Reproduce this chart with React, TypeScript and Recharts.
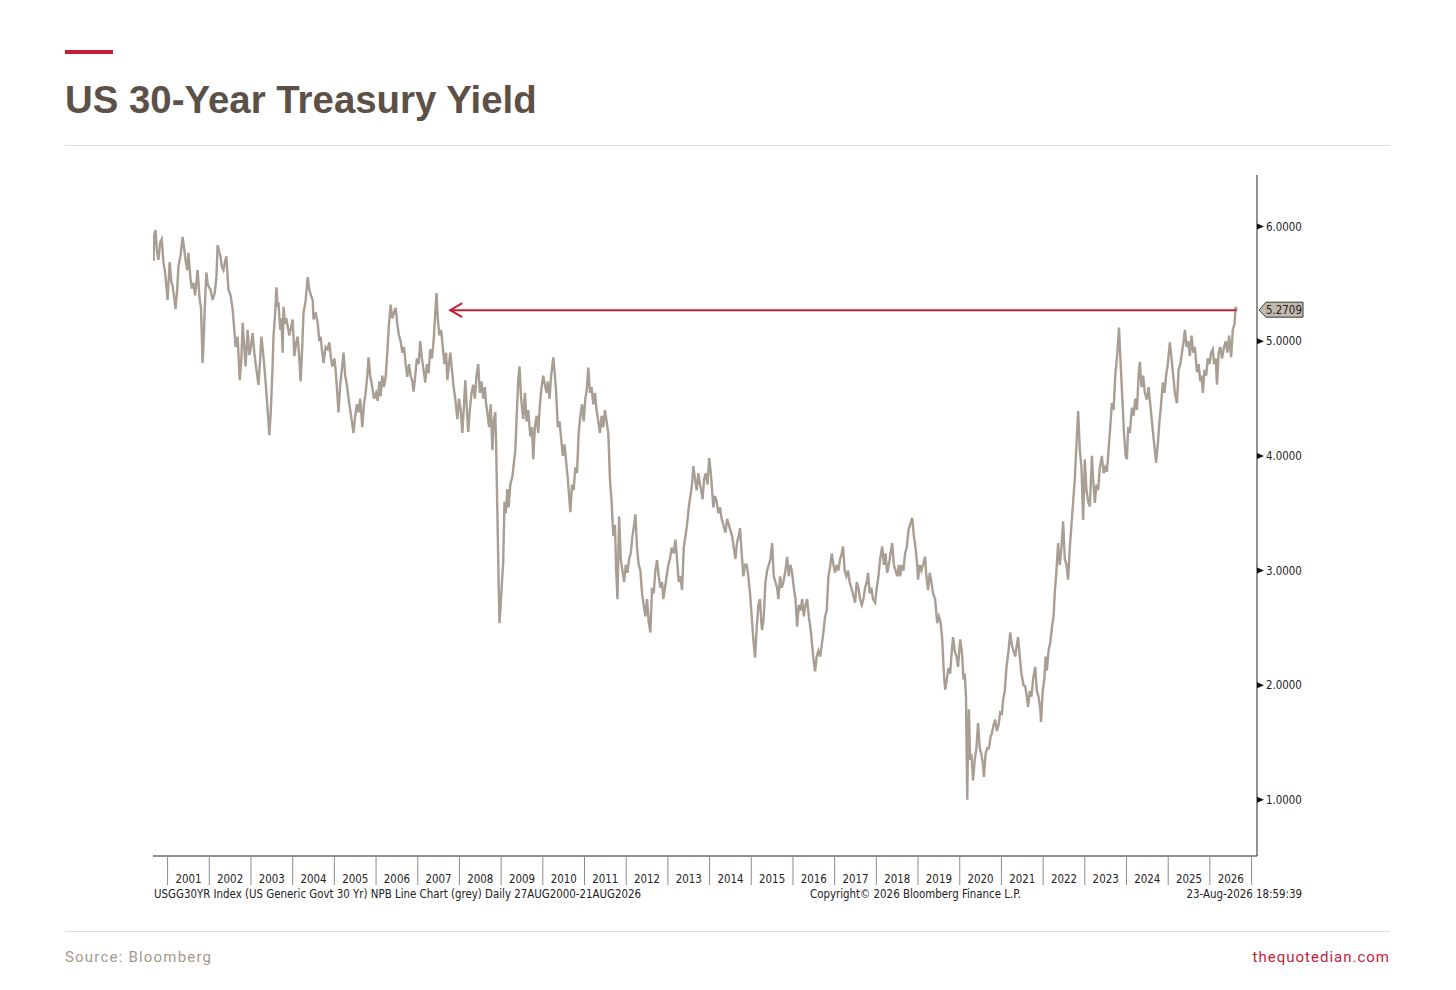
import { LineChart, Line, XAxis, YAxis, ReferenceLine } from "recharts";

// US 30y generic yield: [decimal year, yield %]
const Y2000_2004: [number, number][] = [
  [2000.66, 5.7], [2000.68, 5.93], [2000.71, 5.97], [2000.74, 5.8], [2000.78, 5.71], [2000.82, 5.86],
  [2000.86, 5.89], [2000.9, 5.69], [2000.94, 5.6], [2001.0, 5.36], [2001.05, 5.69], [2001.09, 5.52],
  [2001.12, 5.48], [2001.16, 5.38], [2001.19, 5.28], [2001.23, 5.45], [2001.26, 5.65], [2001.31, 5.75],
  [2001.36, 5.91], [2001.4, 5.8], [2001.43, 5.71], [2001.47, 5.62], [2001.5, 5.77], [2001.55, 5.54],
  [2001.58, 5.46], [2001.62, 5.51], [2001.66, 5.4], [2001.72, 5.62], [2001.77, 5.36], [2001.8, 5.3],
  [2001.84, 4.81], [2001.87, 5.05], [2001.89, 5.28], [2001.93, 5.6], [2001.96, 5.5], [2001.98, 5.48],
  [2002.03, 5.45], [2002.08, 5.36], [2002.13, 5.42], [2002.17, 5.55], [2002.2, 5.84], [2002.24, 5.78],
  [2002.27, 5.74], [2002.3, 5.65], [2002.34, 5.62], [2002.38, 5.7], [2002.41, 5.74], [2002.46, 5.45],
  [2002.51, 5.4], [2002.56, 5.28], [2002.6, 5.1], [2002.63, 4.95], [2002.68, 5.04], [2002.73, 4.66],
  [2002.77, 4.85], [2002.8, 5.16], [2002.84, 4.95], [2002.87, 4.78], [2002.92, 5.1], [2002.96, 4.88],
  [2002.99, 4.93], [2003.04, 5.07], [2003.08, 4.9], [2003.11, 4.81], [2003.15, 4.7], [2003.18, 4.62],
  [2003.22, 4.85], [2003.25, 5.04], [2003.29, 4.9], [2003.32, 4.78], [2003.36, 4.6], [2003.4, 4.4],
  [2003.44, 4.18], [2003.47, 4.35], [2003.49, 4.52], [2003.52, 4.8], [2003.54, 5.04], [2003.58, 5.25],
  [2003.61, 5.47], [2003.64, 5.3], [2003.66, 5.34], [2003.7, 5.1], [2003.73, 5.2], [2003.76, 4.9],
  [2003.78, 5.3], [2003.82, 5.15], [2003.85, 5.2], [2003.88, 5.13], [2003.92, 5.05], [2004.0, 5.19],
  [2004.04, 4.87], [2004.08, 4.98], [2004.12, 5.04], [2004.16, 4.85], [2004.19, 4.65], [2004.23, 4.95],
  [2004.26, 5.25], [2004.31, 5.35], [2004.36, 5.56], [2004.4, 5.45], [2004.44, 5.4], [2004.48, 5.36],
  [2004.5, 5.19], [2004.55, 5.25], [2004.6, 5.16], [2004.64, 5.0], [2004.67, 5.04], [2004.71, 4.9],
  [2004.74, 4.81], [2004.79, 4.95], [2004.84, 4.93], [2004.88, 4.99], [2004.92, 4.85], [2004.95, 4.78],
];

const Y2005_2009: [number, number][] = [
  [2005.0, 4.85], [2005.03, 4.75], [2005.06, 4.6], [2005.1, 4.38], [2005.14, 4.62], [2005.18, 4.75],
  [2005.22, 4.9], [2005.26, 4.7], [2005.3, 4.62], [2005.34, 4.5], [2005.38, 4.4], [2005.42, 4.3],
  [2005.46, 4.2], [2005.5, 4.35], [2005.54, 4.45], [2005.58, 4.38], [2005.62, 4.5], [2005.67, 4.25],
  [2005.71, 4.45], [2005.75, 4.55], [2005.79, 4.7], [2005.82, 4.86], [2005.86, 4.7], [2005.9, 4.62],
  [2005.95, 4.5], [2006.0, 4.55], [2006.04, 4.48], [2006.08, 4.65], [2006.11, 4.52], [2006.15, 4.7],
  [2006.19, 4.6], [2006.23, 4.69], [2006.27, 4.9], [2006.31, 5.15], [2006.35, 5.32], [2006.39, 5.2],
  [2006.43, 5.25], [2006.47, 5.29], [2006.51, 5.15], [2006.55, 5.05], [2006.59, 5.0], [2006.63, 4.9],
  [2006.67, 4.95], [2006.71, 4.8], [2006.75, 4.69], [2006.79, 4.8], [2006.83, 4.7], [2006.87, 4.65],
  [2006.9, 4.56], [2006.94, 4.7], [2006.98, 4.85], [2007.02, 4.8], [2007.06, 5.0], [2007.1, 4.85],
  [2007.14, 4.75], [2007.18, 4.64], [2007.22, 4.8], [2007.26, 4.72], [2007.3, 4.93], [2007.34, 4.85],
  [2007.38, 5.0], [2007.42, 5.25], [2007.45, 5.42], [2007.48, 5.2], [2007.52, 5.05], [2007.56, 5.1],
  [2007.6, 4.95], [2007.64, 4.8], [2007.68, 4.9], [2007.71, 4.66], [2007.75, 4.8], [2007.78, 4.9],
  [2007.82, 4.75], [2007.86, 4.6], [2007.9, 4.5], [2007.95, 4.32], [2007.99, 4.5], [2008.03, 4.4],
  [2008.07, 4.2], [2008.11, 4.45], [2008.14, 4.66], [2008.18, 4.4], [2008.21, 4.21], [2008.25, 4.4],
  [2008.29, 4.55], [2008.33, 4.62], [2008.37, 4.5], [2008.41, 4.7], [2008.45, 4.8], [2008.49, 4.55],
  [2008.53, 4.65], [2008.57, 4.5], [2008.61, 4.6], [2008.64, 4.45], [2008.67, 4.38], [2008.71, 4.25],
  [2008.75, 4.45], [2008.79, 4.05], [2008.82, 4.3], [2008.86, 4.38], [2008.88, 4.1], [2008.91, 3.5],
  [2008.94, 2.9], [2008.96, 2.54], [2008.99, 2.7], [2009.02, 2.9], [2009.05, 3.07], [2009.08, 3.6],
  [2009.11, 3.5], [2009.15, 3.71], [2009.18, 3.55], [2009.22, 3.75], [2009.27, 3.82], [2009.31, 3.95],
  [2009.34, 4.05], [2009.38, 4.4], [2009.41, 4.65], [2009.44, 4.78], [2009.48, 4.5], [2009.53, 4.32],
  [2009.57, 4.55], [2009.61, 4.3], [2009.65, 4.4], [2009.7, 4.17], [2009.74, 4.25], [2009.77, 3.97],
  [2009.81, 4.25], [2009.85, 4.35], [2009.89, 4.2], [2009.93, 4.45], [2009.97, 4.6],
];

const Y2010_2014: [number, number][] = [
  [2010.01, 4.7], [2010.05, 4.62], [2010.09, 4.55], [2010.12, 4.65], [2010.16, 4.5], [2010.2, 4.7],
  [2010.25, 4.86], [2010.29, 4.7], [2010.32, 4.55], [2010.36, 4.25], [2010.4, 4.3], [2010.44, 4.15],
  [2010.48, 4.0], [2010.52, 4.1], [2010.56, 3.95], [2010.6, 3.8], [2010.63, 3.65], [2010.66, 3.51],
  [2010.7, 3.75], [2010.74, 3.7], [2010.78, 3.9], [2010.82, 3.85], [2010.86, 4.2], [2010.9, 4.35],
  [2010.94, 4.45], [2010.98, 4.3], [2011.02, 4.5], [2011.06, 4.6], [2011.09, 4.77], [2011.13, 4.55],
  [2011.17, 4.6], [2011.21, 4.45], [2011.25, 4.55], [2011.29, 4.4], [2011.33, 4.3], [2011.37, 4.2],
  [2011.41, 4.35], [2011.45, 4.25], [2011.49, 4.4], [2011.53, 4.3], [2011.57, 4.2], [2011.61, 3.8],
  [2011.65, 3.6], [2011.69, 3.3], [2011.73, 3.4], [2011.76, 3.0], [2011.79, 2.75], [2011.83, 3.47],
  [2011.87, 3.1], [2011.91, 3.0], [2011.95, 2.9], [2011.99, 3.05], [2012.03, 2.98], [2012.07, 3.1],
  [2012.11, 3.15], [2012.15, 3.3], [2012.19, 3.4], [2012.22, 3.49], [2012.26, 3.2], [2012.3, 3.05],
  [2012.34, 3.0], [2012.38, 2.8], [2012.42, 2.7], [2012.46, 2.6], [2012.5, 2.75], [2012.54, 2.55],
  [2012.58, 2.46], [2012.62, 2.85], [2012.66, 2.8], [2012.7, 3.0], [2012.74, 3.09], [2012.78, 2.95],
  [2012.82, 2.85], [2012.86, 2.9], [2012.89, 2.75], [2012.93, 2.85], [2012.97, 2.95], [2013.01, 3.05],
  [2013.05, 3.1], [2013.09, 3.2], [2013.14, 3.15], [2013.18, 3.27], [2013.22, 3.1], [2013.26, 2.9],
  [2013.3, 2.95], [2013.34, 2.83], [2013.38, 3.2], [2013.42, 3.3], [2013.46, 3.4], [2013.5, 3.55],
  [2013.54, 3.65], [2013.58, 3.75], [2013.61, 3.91], [2013.65, 3.8], [2013.69, 3.7], [2013.73, 3.85],
  [2013.77, 3.75], [2013.8, 3.7], [2013.83, 3.62], [2013.87, 3.8], [2013.91, 3.85], [2013.95, 3.75],
  [2013.99, 3.98], [2014.03, 3.85], [2014.06, 3.7], [2014.09, 3.55], [2014.13, 3.65], [2014.17, 3.6],
  [2014.21, 3.5], [2014.25, 3.55], [2014.29, 3.45], [2014.33, 3.4], [2014.38, 3.33], [2014.42, 3.45],
  [2014.46, 3.4], [2014.5, 3.35], [2014.54, 3.3], [2014.58, 3.2], [2014.62, 3.1], [2014.66, 3.25],
  [2014.7, 3.3], [2014.73, 3.37], [2014.77, 3.15], [2014.81, 2.95], [2014.85, 3.05], [2014.89, 3.05],
  [2014.93, 2.95], [2014.97, 2.8],
];

const Y2015_2019: [number, number][] = [
  [2015.01, 2.6], [2015.05, 2.4], [2015.09, 2.24], [2015.13, 2.5], [2015.17, 2.7], [2015.21, 2.75],
  [2015.24, 2.55], [2015.26, 2.48], [2015.3, 2.6], [2015.34, 2.9], [2015.38, 3.0], [2015.42, 3.05],
  [2015.46, 3.1], [2015.5, 3.24], [2015.54, 2.95], [2015.58, 2.9], [2015.62, 2.85], [2015.65, 2.75],
  [2015.69, 2.95], [2015.73, 2.85], [2015.77, 2.9], [2015.82, 3.0], [2015.86, 3.12], [2015.9, 2.95],
  [2015.94, 3.05], [2015.98, 2.98], [2016.02, 2.85], [2016.06, 2.75], [2016.1, 2.51], [2016.14, 2.7],
  [2016.18, 2.65], [2016.22, 2.75], [2016.26, 2.6], [2016.3, 2.7], [2016.34, 2.75], [2016.38, 2.6],
  [2016.42, 2.5], [2016.46, 2.35], [2016.5, 2.2], [2016.53, 2.12], [2016.57, 2.25], [2016.61, 2.3],
  [2016.65, 2.25], [2016.69, 2.35], [2016.73, 2.46], [2016.77, 2.6], [2016.81, 2.65], [2016.85, 2.95],
  [2016.89, 3.03], [2016.93, 3.15], [2016.97, 3.05], [2017.01, 2.98], [2017.05, 3.05], [2017.09, 3.0],
  [2017.13, 3.1], [2017.17, 3.15], [2017.2, 3.21], [2017.24, 3.0], [2017.28, 2.95], [2017.32, 3.0],
  [2017.36, 2.9], [2017.4, 2.85], [2017.45, 2.78], [2017.49, 2.72], [2017.53, 2.9], [2017.57, 2.85],
  [2017.61, 2.75], [2017.65, 2.7], [2017.69, 2.75], [2017.73, 2.85], [2017.77, 2.9], [2017.8, 2.98],
  [2017.84, 2.8], [2017.88, 2.85], [2017.92, 2.75], [2017.97, 2.72], [2018.01, 2.85], [2018.05, 2.95],
  [2018.09, 3.1], [2018.14, 3.21], [2018.18, 3.05], [2018.22, 3.15], [2018.26, 2.98], [2018.3, 3.05],
  [2018.34, 3.15], [2018.38, 3.24], [2018.42, 3.05], [2018.46, 3.0], [2018.5, 2.95], [2018.54, 3.05],
  [2018.57, 2.95], [2018.61, 3.05], [2018.65, 3.0], [2018.69, 3.15], [2018.73, 3.2], [2018.77, 3.35],
  [2018.81, 3.4], [2018.86, 3.46], [2018.9, 3.3], [2018.94, 3.2], [2018.98, 3.05], [2019.0, 2.92],
  [2019.04, 3.05], [2019.08, 3.0], [2019.12, 3.05], [2019.17, 3.12], [2019.2, 2.95], [2019.24, 2.83],
  [2019.28, 2.98], [2019.32, 2.9], [2019.36, 2.8], [2019.41, 2.75], [2019.46, 2.54], [2019.5, 2.6],
  [2019.54, 2.55], [2019.58, 2.4], [2019.62, 2.1], [2019.65, 1.96], [2019.69, 2.05], [2019.73, 2.15],
  [2019.77, 2.1], [2019.81, 2.3], [2019.84, 2.42], [2019.88, 2.3], [2019.92, 2.25], [2019.96, 2.16],
];

const Y2020_2026: [number, number][] = [
  [2020.01, 2.4], [2020.05, 2.3], [2020.09, 2.05], [2020.12, 2.1], [2020.15, 1.9], [2020.18, 1.0],
  [2020.2, 1.55], [2020.22, 1.79], [2020.25, 1.35], [2020.28, 1.4], [2020.32, 1.17], [2020.36, 1.35],
  [2020.4, 1.45], [2020.44, 1.67], [2020.48, 1.45], [2020.52, 1.4], [2020.56, 1.3], [2020.58, 1.2],
  [2020.62, 1.4], [2020.66, 1.45], [2020.7, 1.45], [2020.74, 1.55], [2020.77, 1.58], [2020.81, 1.65],
  [2020.85, 1.7], [2020.89, 1.6], [2020.93, 1.65], [2020.97, 1.76], [2021.01, 1.75], [2021.04, 1.87],
  [2021.08, 1.95], [2021.12, 2.15], [2021.17, 2.3], [2021.21, 2.46], [2021.25, 2.35], [2021.29, 2.3],
  [2021.33, 2.25], [2021.37, 2.35], [2021.4, 2.42], [2021.44, 2.25], [2021.48, 2.1], [2021.53, 2.0],
  [2021.57, 1.99], [2021.61, 1.9], [2021.64, 1.81], [2021.68, 1.95], [2021.72, 1.9], [2021.76, 2.05],
  [2021.81, 2.16], [2021.85, 1.95], [2021.89, 1.9], [2021.93, 1.8], [2021.95, 1.68], [2021.99, 1.95],
  [2022.03, 2.05], [2022.06, 2.25], [2022.09, 2.13], [2022.13, 2.3], [2022.17, 2.37], [2022.21, 2.5],
  [2022.25, 2.6], [2022.28, 2.81], [2022.32, 3.0], [2022.36, 3.24], [2022.4, 3.05], [2022.44, 3.2],
  [2022.48, 3.43], [2022.52, 3.1], [2022.56, 3.05], [2022.6, 2.92], [2022.64, 3.2], [2022.68, 3.4],
  [2022.72, 3.6], [2022.76, 3.8], [2022.8, 4.1], [2022.84, 4.39], [2022.88, 4.05], [2022.92, 3.9],
  [2022.96, 3.44], [2023.0, 3.97], [2023.04, 3.7], [2023.08, 3.6], [2023.12, 3.56], [2023.17, 4.0],
  [2023.2, 3.8], [2023.24, 3.59], [2023.28, 3.75], [2023.32, 3.7], [2023.36, 3.9], [2023.41, 4.0],
  [2023.45, 3.85], [2023.49, 3.9], [2023.53, 3.86], [2023.57, 4.05], [2023.61, 4.25], [2023.65, 4.46],
  [2023.69, 4.4], [2023.73, 4.7], [2023.77, 4.85], [2023.8, 5.0], [2023.82, 5.12], [2023.86, 4.8],
  [2023.9, 4.5], [2023.94, 4.2], [2023.98, 4.0], [2024.01, 3.97], [2024.04, 4.25], [2024.08, 4.2],
  [2024.13, 4.42], [2024.17, 4.35], [2024.21, 4.5], [2024.25, 4.4], [2024.29, 4.7], [2024.32, 4.82],
  [2024.36, 4.6], [2024.4, 4.7], [2024.44, 4.55], [2024.49, 4.49], [2024.53, 4.6], [2024.57, 4.45],
  [2024.61, 4.3], [2024.65, 4.15], [2024.68, 4.05], [2024.71, 3.94], [2024.75, 4.1], [2024.79, 4.3],
  [2024.83, 4.45], [2024.87, 4.64], [2024.91, 4.55], [2024.95, 4.7], [2024.99, 4.8], [2025.04, 4.99],
  [2025.08, 4.85], [2025.12, 4.7], [2025.16, 4.55], [2025.21, 4.46], [2025.25, 4.75], [2025.29, 4.8],
  [2025.33, 4.9], [2025.37, 5.0], [2025.4, 5.1], [2025.44, 4.95], [2025.48, 5.0], [2025.52, 4.87],
  [2025.56, 5.05], [2025.6, 4.9], [2025.64, 4.95], [2025.69, 4.73], [2025.73, 4.8], [2025.77, 4.65],
  [2025.8, 4.7], [2025.83, 4.55], [2025.87, 4.75], [2025.91, 4.7], [2025.95, 4.85], [2025.99, 4.8],
  [2026.03, 4.9], [2026.07, 4.93], [2026.1, 4.8], [2026.14, 4.85], [2026.17, 4.62], [2026.21, 4.9],
  [2026.25, 4.95], [2026.29, 4.85], [2026.34, 4.95], [2026.38, 5.0], [2026.42, 4.9], [2026.46, 5.05],
  [2026.51, 4.86], [2026.55, 5.1], [2026.59, 5.15], [2026.62, 5.3], [2026.64, 5.27],
];

const YEAR_LABELS = [
  2001, 2002, 2003, 2004, 2005, 2006, 2007, 2008, 2009, 2010, 2011, 2012, 2013,
  2014, 2015, 2016, 2017, 2018, 2019, 2020, 2021, 2022, 2023, 2024, 2025, 2026,
];
const YIELD_TICKS = [1, 2, 3, 4, 5, 6];
const LAST_YIELD = 5.2709;
const ARROW_START = 2007.78; // just right of the 2007 high
const ARROW_END = 2026.64;

const series = [...Y2000_2004, ...Y2005_2009, ...Y2010_2014, ...Y2015_2019, ...Y2020_2026].map(
  ([t, v]) => ({ t, v })
);

// boundaries get a divider line, mid-years carry the label
const xTicks = [
  ...YEAR_LABELS,
  YEAR_LABELS[YEAR_LABELS.length - 1] + 1,
  ...YEAR_LABELS.map((y) => y + 0.5),
].sort((a, b) => a - b);

const BBG = "'DejaVu Sans Condensed', 'DejaVu Sans', sans-serif";
const CRIMSON = "#C41E3A";
const LINE_GREY = "#A89E94";

function YearTick({ x, y, payload }: any) {
  const v = payload.value;
  if (Number.isInteger(v)) {
    return <line x1={x} y1={y} x2={x} y2={y + 29} stroke="#8c8c8c" strokeWidth={1} />;
  }
  return (
    <text x={x} y={y + 27} textAnchor="middle" fontSize={11.4} fill="#222" fontFamily={BBG}>
      {Math.floor(v)}
    </text>
  );
}

function YieldTick({ x, y, payload }: any) {
  return (
    <g>
      <path d={`M${x},${y - 3} L${x + 7},${y} L${x},${y + 3} Z`} fill="#111" />
      <text x={x + 9} y={y + 4} fontSize={11.4} fill="#222" fontFamily={BBG}>
        {Number(payload.value).toFixed(4)}
      </text>
    </g>
  );
}

function LastValueTag({ viewBox }: any) {
  const rx = viewBox.x + viewBox.width;
  const cy = viewBox.y;
  return (
    <g>
      <path
        d={`M${rx + 2},${cy} L${rx + 9},${cy - 8} L${rx + 46},${cy - 8} L${rx + 46},${cy + 7} L${rx + 9},${cy + 7} Z`}
        fill="#C2B9AE"
        stroke="#3a3a3a"
        strokeWidth={1}
      />
      <text x={rx + 27} y={cy + 4} textAnchor="middle" fontSize={11.4} fill="#222" fontFamily={BBG}>
        {LAST_YIELD.toFixed(4)}
      </text>
    </g>
  );
}

function ArrowHead({ viewBox }: any) {
  const x = viewBox.x;
  const y = viewBox.y;
  return (
    <path
      d={`M${x + 12},${y - 7} L${x},${y} L${x + 12},${y + 7}`}
      fill="none"
      stroke={CRIMSON}
      strokeWidth={2}
    />
  );
}

const footNote = {
  position: "absolute" as const,
  top: 887,
  fontFamily: BBG,
  fontSize: 11.4,
  lineHeight: "14px",
  color: "#222",
  whiteSpace: "nowrap" as const,
};

export default function App() {
  return (
    <div
      style={{
        position: "relative",
        width: 1456,
        height: 990,
        margin: -8,
        background: "#fff",
        overflow: "hidden",
      }}
    >
      <div style={{ position: "absolute", left: 65, top: 50, width: 48, height: 4, background: CRIMSON }} />
      <div
        style={{
          position: "absolute",
          left: 65,
          top: 81,
          fontFamily: "'Liberation Sans', Arial, sans-serif",
          fontWeight: 700,
          fontSize: 38.4,
          lineHeight: 1,
          color: "#5C5047",
          whiteSpace: "nowrap",
        }}
      >
        US 30-Year Treasury Yield
      </div>
      <div style={{ position: "absolute", left: 65, top: 145, width: 1325, height: 1, background: "#dcdcdc" }} />

      <div style={{ position: "absolute", left: 0, top: 0 }}>
        <LineChart
          width={1456}
          height={990}
          data={series}
          margin={{ top: 175, left: 153, right: 139, bottom: 94 }}
        >
          <XAxis
            dataKey="t"
            type="number"
            domain={[2000.65, 2027.13]}
            allowDataOverflow
            ticks={xTicks}
            interval={0}
            tick={<YearTick />}
            tickLine={false}
            tickSize={0}
            tickMargin={0}
            axisLine={{ stroke: "#222" }}
            height={40}
          />
          <YAxis
            orientation="right"
            type="number"
            domain={[0.51, 6.45]}
            allowDataOverflow
            ticks={YIELD_TICKS}
            interval={0}
            tick={<YieldTick />}
            tickLine={false}
            tickSize={0}
            tickMargin={0}
            axisLine={{ stroke: "#222" }}
            width={60}
          />
          <Line
            type="linear"
            dataKey="v"
            stroke={LINE_GREY}
            strokeWidth={2.4}
            dot={false}
            isAnimationActive={false}
          />
          <ReferenceLine
            segment={[
              { x: ARROW_START, y: LAST_YIELD },
              { x: ARROW_END, y: LAST_YIELD },
            ]}
            stroke={CRIMSON}
            strokeWidth={2}
            label={(p: any) => <ArrowHead {...p} />}
          />
          <ReferenceLine
            y={LAST_YIELD}
            stroke="none"
            label={(p: any) => <LastValueTag {...p} />}
          />
        </LineChart>
      </div>

      <div style={{ ...footNote, left: 154 }}>
        USGG30YR Index (US Generic Govt 30 Yr) NPB Line Chart (grey) Daily 27AUG2000-21AUG2026
      </div>
      <div style={{ ...footNote, left: 810 }}>Copyright© 2026 Bloomberg Finance L.P.</div>
      <div style={{ ...footNote, right: 1456 - 1302 }}>23-Aug-2026 18:59:39</div>

      <div style={{ position: "absolute", left: 65, top: 931, width: 1325, height: 1, background: "#dcdcdc" }} />
      <div
        style={{
          position: "absolute",
          left: 65,
          top: 947,
          fontFamily: "Roboto, 'Noto Sans', sans-serif",
          fontSize: 15,
          lineHeight: "20px",
          letterSpacing: 1.2,
          color: "#A39A90",
        }}
      >
        Source: Bloomberg
      </div>
      <div
        style={{
          position: "absolute",
          right: 1456 - 1390,
          top: 947,
          fontFamily: "Roboto, 'Noto Sans', sans-serif",
          fontSize: 15,
          lineHeight: "20px",
          letterSpacing: 1.0,
          color: CRIMSON,
        }}
      >
        thequotedian.com
      </div>
    </div>
  );
}
